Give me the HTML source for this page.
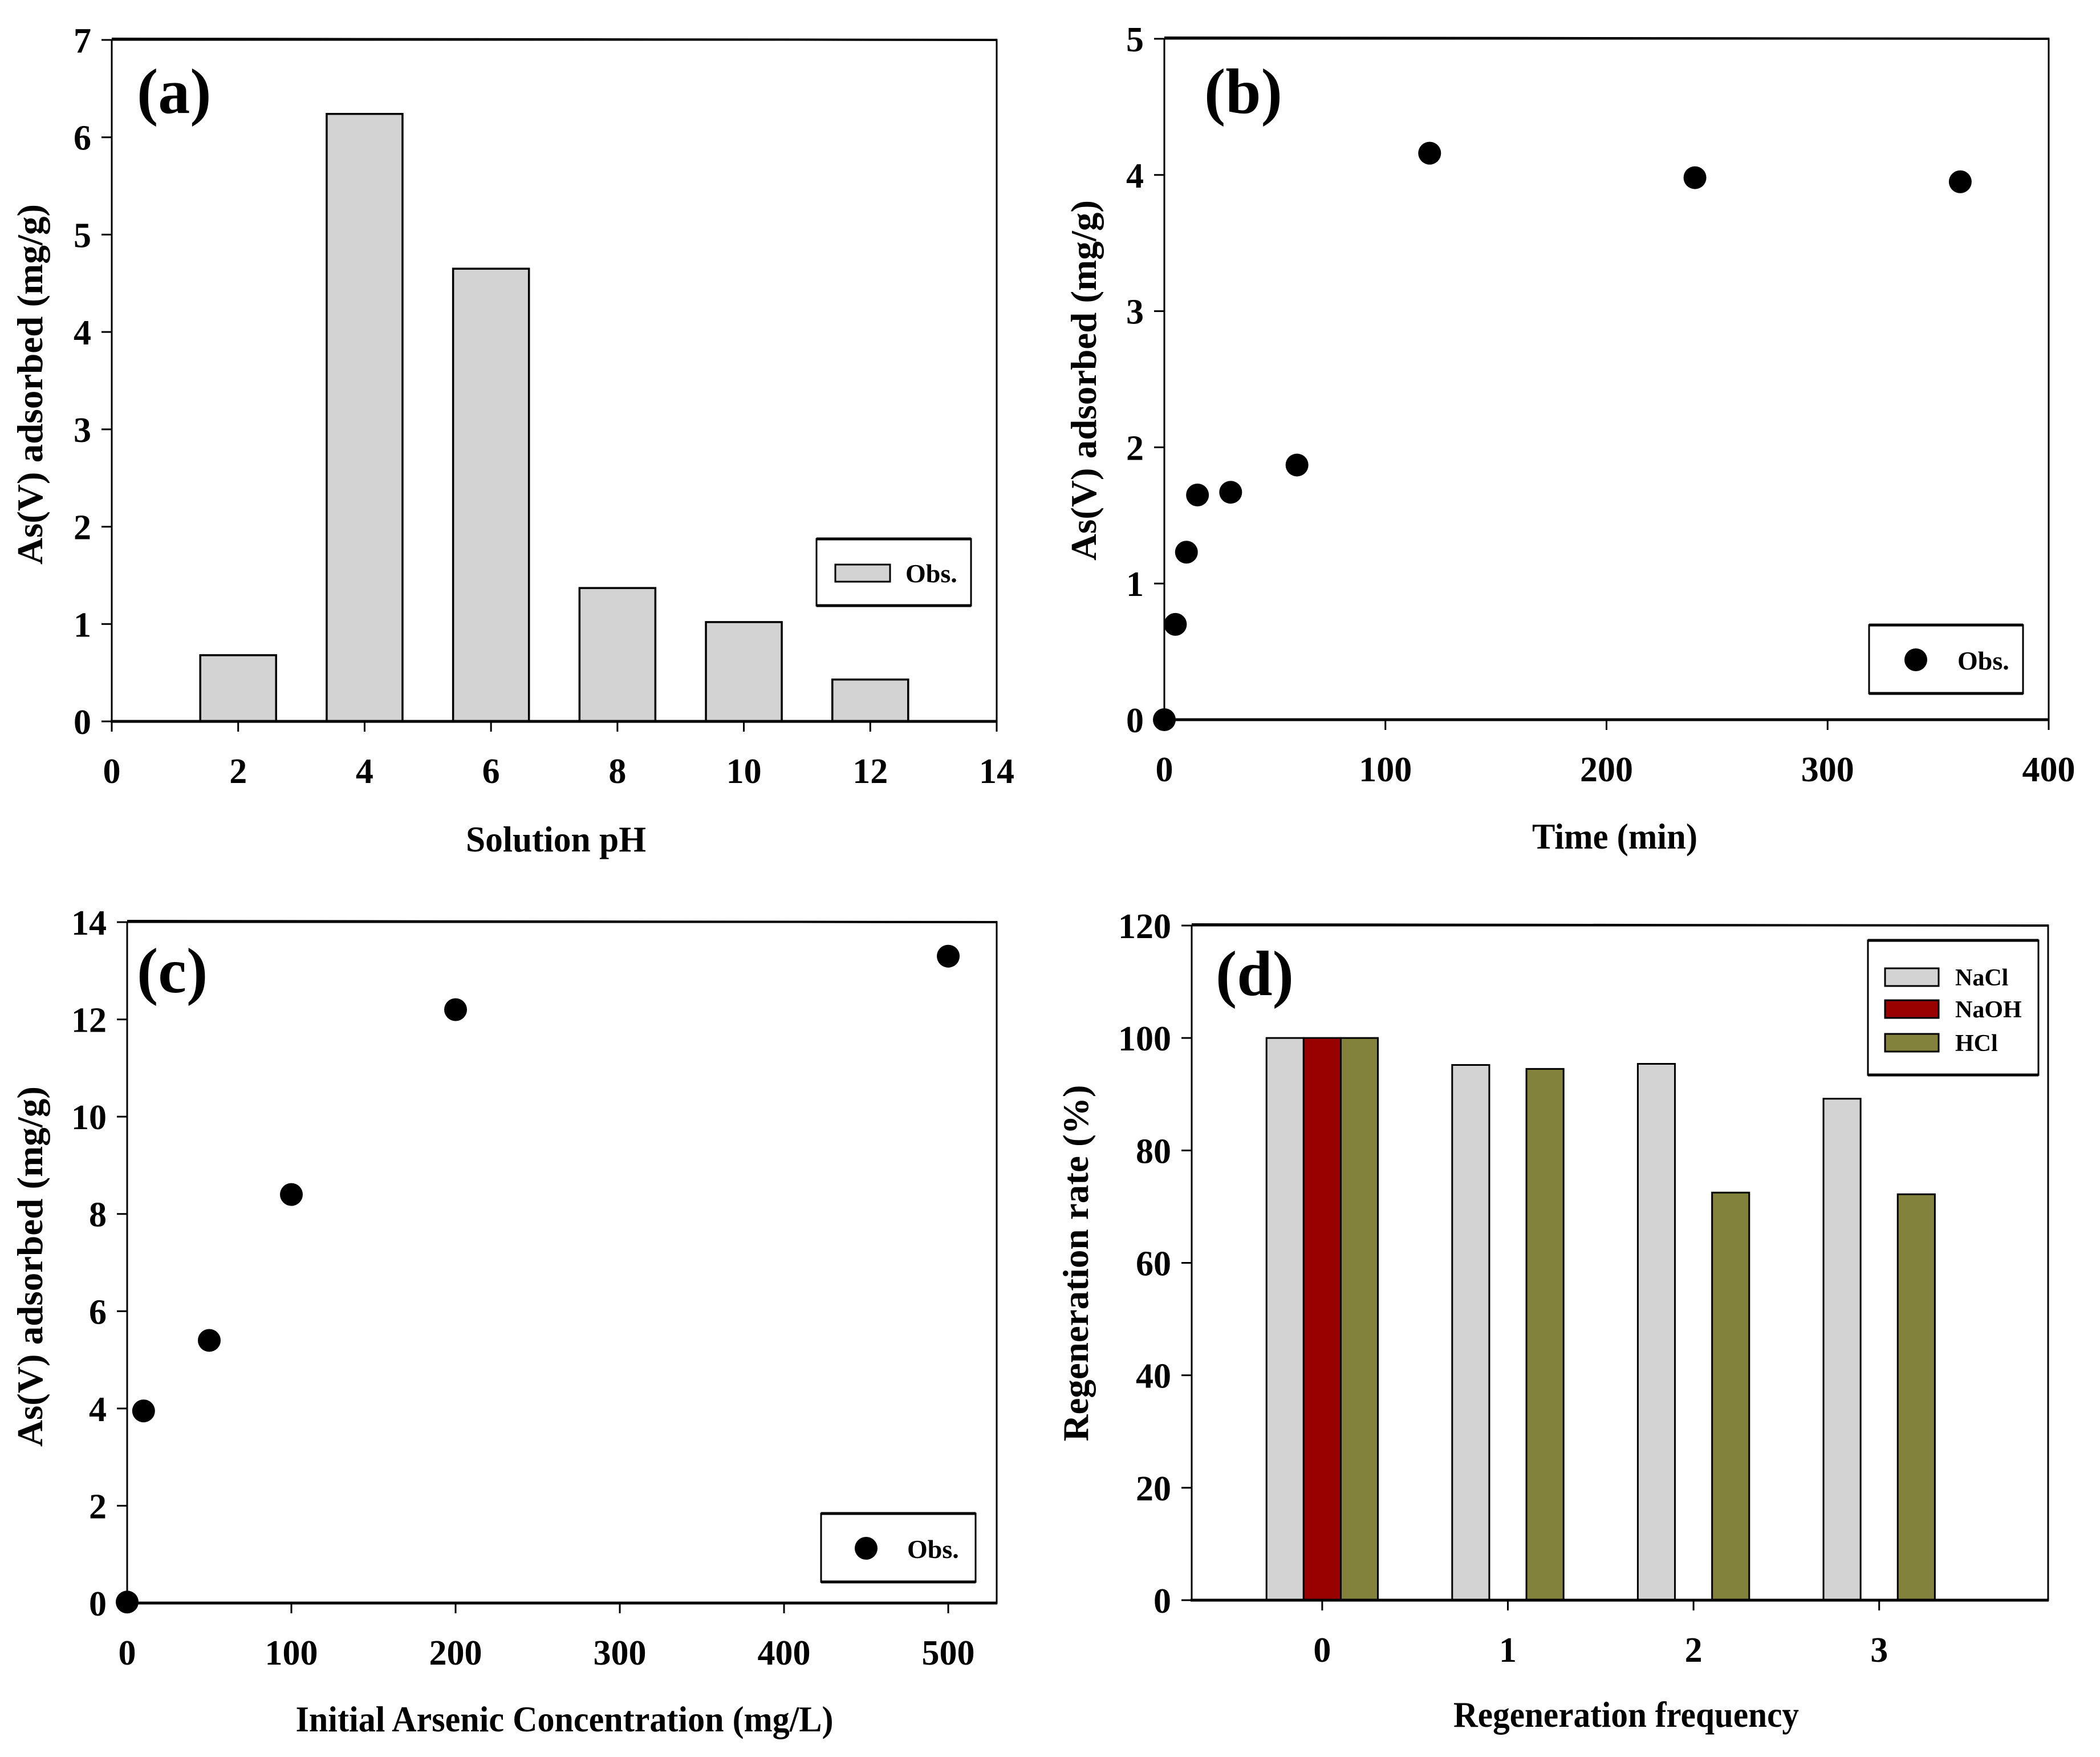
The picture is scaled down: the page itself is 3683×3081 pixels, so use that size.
<!DOCTYPE html>
<html><head><meta charset="utf-8"><style>
html,body{margin:0;padding:0;background:#fff;}
svg{display:block;font-family:"Liberation Serif",serif;font-weight:bold;}
</style></head><body>
<svg id="fig" width="3683" height="3081" viewBox="0 0 3683 3081" xmlns="http://www.w3.org/2000/svg"></svg>
<script>
// Panel (a) data
const phCats = [2, 4, 6, 8, 10, 12];
const phValues = [0.68, 6.24, 4.65, 1.37, 1.02, 0.43];
const phXTicks = [0, 2, 4, 6, 8, 10, 12, 14];
const phYTicks = [0, 1, 2, 3, 4, 5, 6, 7];
// Panel (b) data
const timeX = [0, 5, 10, 15, 30, 60, 120, 240, 360];
const timeY = [0, 0.70, 1.23, 1.65, 1.67, 1.87, 4.16, 3.98, 3.95];
const timeXTicks = [0, 100, 200, 300, 400];
const timeYTicks = [0, 1, 2, 3, 4, 5];
// Panel (c) data
const concX = [0, 10, 50, 100, 200, 500];
const concY = [0.02, 3.95, 5.4, 8.4, 12.2, 13.3];
const concXTicks = [0, 100, 200, 300, 400, 500];
const concYTicks = [0, 2, 4, 6, 8, 10, 12, 14];
// Panel (d) data
const regenCats = [0, 1, 2, 3];
const regenNaCl = [100, 95.2, 95.4, 89.2];
const regenNaOH = [100, null, null, null];
const regenHCl = [100, 94.5, 72.5, 72.2];
const regenYTicks = [0, 20, 40, 60, 80, 100, 120];

const NS = "http://www.w3.org/2000/svg";
const svg = document.getElementById('fig');
function mk(tag, attrs, parent, text){
  const e = document.createElementNS(NS, tag);
  for (const k in attrs) e.setAttribute(k, attrs[k]);
  if (text !== undefined) e.textContent = text;
  (parent || svg).appendChild(e);
  return e;
}
function scale(d0, d1, r0, r1){ return v => r0 + (v - d0) / (d1 - d0) * (r1 - r0); }

function frame(g, L, R, T, B){
  const r = mk('rect', {x:L, y:T, width:R-L, height:B-T, fill:'none', stroke:'#000', 'stroke-width':3}, g);
  
  
  mk('line', {x1:L-2, y1:B, x2:R+1, y2:B, stroke:'#000', 'stroke-width':5}, g);
  mk('line', {x1:L, y1:T-2, x2:R+1, y2:T, stroke:'#000', 'stroke-width':4}, g);
}
function yAxis(g, L, ys, ticks, label, titleX, titleY, len){
  const ax = mk('g', {}, g);
  
  
  ticks.forEach(t => {
    mk('line', {x1:L-18, y1:ys(t), x2:L, y2:ys(t), stroke:'#000', 'stroke-width':3}, ax);
    const tx = mk('text', {x:L-36, y:ys(t)+22, 'font-size':62, 'text-anchor':'end'}, ax, String(t));
    
    
  });
  const tt = mk('text', {x:0, y:0, 'font-size':64, 'text-anchor':'middle', textLength:len, lengthAdjust:'spacingAndGlyphs', transform:`translate(${titleX},${titleY}) rotate(-90)`}, ax, label);
  
  
}
function xAxis(g, B, xs, ticks, label, titleX, titleY, len){
  const ax = mk('g', {}, g);
  
  
  ticks.forEach(t => {
    mk('line', {x1:xs(t), y1:B, x2:xs(t), y2:B+18, stroke:'#000', 'stroke-width':3}, ax);
    const tx = mk('text', {x:xs(t), y:B+108, 'font-size':62, 'text-anchor':'middle'}, ax, String(t));
    
    
  });
  const tt = mk('text', {x:titleX, y:titleY, 'font-size':64, 'text-anchor':'middle', textLength:len, lengthAdjust:'spacingAndGlyphs'}, ax, label);
  
  
}
function panelLabel(g, x, y, t){
  const e = mk('text', {x:x, y:y, 'font-size':112}, g, t);
  
  
}
function legendBox(g, x, y, w, h){
  const lg = mk('g', {}, g);
  
  
  mk('rect', {x:x, y:y, width:w, height:h, fill:'#fff', stroke:'#000', 'stroke-width':3}, lg);
  mk('line', {x1:x, y1:y, x2:x+w, y2:y, stroke:'#000', 'stroke-width':5}, lg);
  mk('line', {x1:x, y1:y+h, x2:x+w, y2:y+h, stroke:'#000', 'stroke-width':5}, lg);
  return lg;
}

// ---------- Panel (a)
{
  const g = mk('g', {});  
  const L=196,R=1748,T=70,B=1265;
  const xs = scale(0,14,L,R), ys = scale(0,7,B,T);
  phCats.forEach((c,i) => {
    const b = mk('rect', {x:xs(c-0.6), y:ys(phValues[i]), width:xs(1.2)-xs(0), height:B-ys(phValues[i]), fill:'#d3d3d3', stroke:'#000', 'stroke-width':3.5}, g);
    
    
  });
  frame(g,L,R,T,B);
  yAxis(g, L, ys, phYTicks, 'As(V) adsorbed (mg/g)', 74, 674, 632);
  xAxis(g, B, xs, phXTicks, 'Solution pH', 975, 1493, 316);
  panelLabel(g, 240, 198, '(a)');
  const lg = legendBox(g, 1432, 945, 271, 117);
  mk('rect', {x:1465, y:990, width:96, height:30, fill:'#d3d3d3', stroke:'#000', 'stroke-width':3}, lg);
  mk('text', {x:1588, y:1021, 'font-size':46}, lg, 'Obs.');
}
// ---------- Panel (b)
{
  const g = mk('g', {});  
  const L=2042,R=3593,T=68,B=1262;
  const xs = scale(0,400,L,R), ys = scale(0,5,B,T);
  frame(g,L,R,T,B);
  timeX.forEach((x,i) => {
    const p = mk('circle', {cx:xs(x), cy:ys(timeY[i]), r:20, fill:'#000'}, g);
    
    
  });
  yAxis(g, L, ys, timeYTicks, 'As(V) adsorbed (mg/g)', 1922, 667, 632);
  xAxis(g, B, xs, timeXTicks, 'Time (min)', 2832, 1488, 290);
  panelLabel(g, 2112, 198, '(b)');
  const lg = legendBox(g, 3278, 1096, 270, 120);
  mk('circle', {cx:3360, cy:1157, r:20, fill:'#000'}, lg);
  mk('text', {x:3433, y:1174, 'font-size':46}, lg, 'Obs.');
}
// ---------- Panel (c)
{
  const g = mk('g', {});  
  const L=223,R=1748,T=1617,B=2811;
  const xs = scale(0,529.5,L,R), ys = scale(0,14,B,T);
  frame(g,L,R,T,B);
  concX.forEach((x,i) => {
    const p = mk('circle', {cx:xs(x), cy:ys(concY[i]), r:20, fill:'#000'}, g);
    
    
  });
  yAxis(g, L, ys, concYTicks, 'As(V) adsorbed (mg/g)', 74, 2221, 632);
  xAxis(g, B, xs, concXTicks, 'Initial Arsenic Concentration (mg/L)', 990, 3036, 943);
  panelLabel(g, 240, 1740, '(c)');
  const lg = legendBox(g, 1440, 2654, 271, 120);
  mk('circle', {cx:1519, cy:2715, r:20, fill:'#000'}, lg);
  mk('text', {x:1591, y:2732, 'font-size':46}, lg, 'Obs.');
}
// ---------- Panel (d)
{
  const g = mk('g', {});  
  const L=2090,R=3592,T=1623,B=2806;
  const xs = scale(-0.703,3.91,L,R), ys = scale(0,120,B,T);
  const bw = xs(0.2)-xs(0);
  const series = [[regenNaCl,'#d3d3d3','nacl',-1],[regenNaOH,'#990000','naoh',0],[regenHCl,'#82823c','hcl',1]];
  series.forEach(([vals,col,nm,off]) => {
    regenCats.forEach((c,i) => {
      if (vals[i] === null) return;
      const b = mk('rect', {x:xs(c)+off*bw-bw/2, y:ys(vals[i]), width:bw, height:B-ys(vals[i]), fill:col, stroke:'#000', 'stroke-width':3}, g);
      
      
    });
  });
  frame(g,L,R,T,B);
  yAxis(g, L, ys, regenYTicks, 'Regeneration rate (%)', 1908, 2215, 625);
  xAxis(g, B, xs, regenCats, 'Regeneration frequency', 2852, 3028, 606);
  panelLabel(g, 2132, 1745, '(d)');
  const lg = legendBox(g, 3276, 1649, 299, 236);
  mk('rect', {x:3306, y:1698, width:94, height:31, fill:'#d3d3d3', stroke:'#000', 'stroke-width':3}, lg);
  mk('text', {x:3429, y:1728, 'font-size':42}, lg, 'NaCl');
  mk('rect', {x:3306, y:1754, width:94, height:31, fill:'#990000', stroke:'#000', 'stroke-width':3}, lg);
  mk('text', {x:3429, y:1784, 'font-size':42}, lg, 'NaOH');
  mk('rect', {x:3306, y:1813, width:94, height:31, fill:'#82823c', stroke:'#000', 'stroke-width':3}, lg);
  mk('text', {x:3429, y:1843, 'font-size':42}, lg, 'HCl');
}
</script>
</body></html>
